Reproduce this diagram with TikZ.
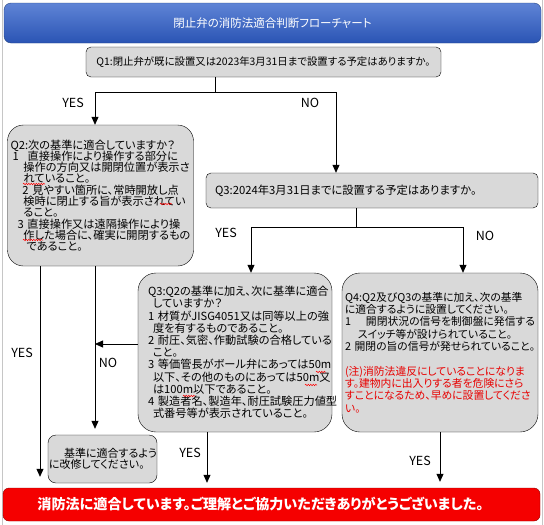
\documentclass[tikz,border=0pt]{standalone}
\usepackage{fontspec}
\setmainfont{Noto Sans CJK JP}[RawFeature={+palt}]
\usetikzlibrary{arrows.meta,decorations.pathmorphing}
\definecolor{boxgray}{HTML}{D9D9D9}
\definecolor{titletop}{HTML}{5F84D6}
\definecolor{titlebot}{HTML}{2A54B4}
\definecolor{titleedge}{HTML}{27457F}
\definecolor{okred}{HTML}{F50000}
\definecolor{okedge}{HTML}{8E0000}
\definecolor{notered}{HTML}{E80000}
\DeclareRobustCommand\tightlines{\lineskiplimit=-100pt\lineskip=0pt\relax}
\begin{document}
\begin{tikzpicture}[x=1pt, y=-1pt,
  qbox/.style = {draw, fill=boxgray, rounded corners=5pt, inner xsep=3pt, inner ysep=0pt},
  bigq/.style = {qbox, rounded corners=16pt, align=left, execute at begin node=\tightlines},
  lbl/.style = {font=\fontsize{12.5}{12.5}\selectfont, inner sep=0pt},
  arr/.style = {-{Triangle[width=7pt,length=8pt]}, line width=0.8pt},
  conn/.style = {line width=0.8pt},
  squiggle/.style = {draw=red, line width=0.5pt, decorate, decoration={snake, amplitude=0.7pt, segment length=2.5pt}}]
	\useasboundingbox (0,0) rectangle (544,525);
	\draw[gray!45] (2,0) -- (2,525) (542,0) -- (542,525);

	\node[draw=titleedge, top color=titletop, bottom color=titlebot, rounded corners=7pt, minimum width=537, minimum height=40, text=white, font=\fontsize{11.5}{11.5}\selectfont] (title) at (272.5,23) {閉止弁の消防法適合判断フローチャート};
	\node[qbox, minimum width=355, minimum height=30, font=\fontsize{10.4}{11}\selectfont] (q1) at (263.5,62) {Q1:閉止弁が既に設置又は2023年3月31日まで設置する予定はありますか。};
	\node[bigq, minimum width=186, minimum height=141, text width=180, font=\fontsize{11.2}{11.3}\selectfont] (q2) at (100.5,195.5) {Q2:次の基準に適合していますか？\\
		\hspace*{2pt}1\hspace*{9pt}直接操作により操作する部分に\\
		\hspace*{13pt}操作の方向又は開閉位置が表示さ\\
		\hspace*{13pt}れていること。\\
		\hspace*{12pt}2~見やすい箇所に、常時開放し点\\
		\hspace*{13pt}検時に閉止する旨が表示されてい\\
		\hspace*{13pt}ること。\\
		\hspace*{7pt}3~直接操作又は遠隔操作により操\\
		\hspace*{13pt}作した場合に、確実に開閉するもの\\
		\hspace*{16pt}であること。};
	\node[qbox, minimum width=332, minimum height=35, text width=314, inner xsep=9pt, align=left, font=\fontsize{11.3}{11.3}\selectfont] (q3) at (372,190.5) {Q3:2024年3月31日までに設置する予定はありますか。};
	\node[bigq, rounded corners=18pt, minimum width=194, minimum height=159, text width=174, inner xsep=10pt, font=\fontsize{11.2}{12.2}\selectfont] (q3b) at (235,352.5) {Q3:Q2の基準に加え、次に基準に適合\\
		\hspace*{5pt}していますか？\\
		1~材質がJISG4051又は同等以上の強\\
		\hspace*{5pt}度を有するものであること。\\
		2~耐圧、気密、作動試験の合格している\\
		\hspace*{5pt}こと。\\
		3~等価管長がボール弁にあっては50m\\
		\hspace*{5pt}以下、その他のものにあっては50m又\\
		\hspace*{5pt}は100m以下であること。\\
		4~製造者名、製造年、耐圧試験圧力値型\\
		\hspace*{5pt}式番号等が表示されていること。};
	\node[bigq, rounded corners=18pt, minimum width=196, minimum height=159, text width=190, inner xsep=3pt, font=\fontsize{10.8}{12.4}\selectfont] (q4) at (440,352.5) {Q4:Q2及びQ3の基準に加え、次の基準\\
		に適合するように設置してください。\\
		1\hspace*{15pt}開閉状況の信号を制御盤に発信する\\
		\hspace*{13pt}スイッチ等が設けられていること。\\
		2~開閉の旨の信号が発せられていること。\\[12pt]
		\textcolor{notered}{(注)消防法違反にしていることになりま}\\
		\textcolor{notered}{す。建物内に出入りする者を危険にさら}\\
		\textcolor{notered}{すことになるため、早めに設置してくださ}\\
		\textcolor{notered}{い。}\\[4pt]};
	\node[qbox, rounded corners=8pt, minimum width=109, minimum height=48, text width=107, inner xsep=1pt, align=left, execute at begin node=\tightlines, font=\fontsize{11}{10.5}\selectfont] (fix) at (102.5,459) {\hspace*{15pt}基準に適合するよう\\に改修してください。};
	\node[draw=okedge, fill=okred, rounded corners=6pt, minimum width=537, minimum height=33, text=white, font=\fontsize{14.1}{15}\bfseries\selectfont] (ok) at (271.5,504.5) {消防法に適合しています。ご理解とご協力いただきありがとうございました。\hspace*{22pt}};

	\coordinate (j1) at (215,92);
	\coordinate (j3) at (356,227);
	\coordinate (noq3) at (95,344);
	\draw[conn] (q1.south -| j1) -- (j1);
	\draw[arr] (j1) -| ([xshift=-5.5pt]q2.north);
	\draw[arr] (j1) -| ([xshift=-36pt]q3.north);
	\draw[conn] (q3.south -| j3) -- (j3);
	\draw[arr] (j3) -| ([xshift=16pt]q3b.north);
	\draw[arr] (j3) -| ([xshift=23pt]q4.north);
	\draw[arr, shorten >=11pt] ([xshift=-60.5pt]q2.south) -- ([xshift=-60.5pt]q2.south |- ok.north);
	\draw[arr, shorten >=6pt] ([xshift=-5.5pt]q2.south) -- ([xshift=-5.5pt]q2.south |- fix.north);
	\draw[arr] (q3b.west |- noq3) -- (noq3);
	\draw[arr, shorten >=5pt] ([xshift=-28pt]q3b.south) -- ([xshift=-28pt]q3b.south |- ok.north);
	\draw[arr, shorten >=6pt] (q4.south) -- (q4.south |- ok.north);

	\node[lbl] (yes1) at (73,103) {YES};
	\node[lbl] (no1) at (310,103) {NO};
	\node[lbl] (yes3) at (226,233) {YES};
	\node[lbl] (no3) at (485,236) {NO};
	\node[lbl] (yes2) at (22,353) {YES};
	\node[lbl] (no2) at (108,363) {NO};
	\node[lbl] (yes3b) at (190,453) {YES};
	\node[lbl] (yes4) at (420,461) {YES};

	\draw[squiggle] (23,184) -- (45,184);
	\draw[squiggle] (160,204) -- (172,204);
	\draw[squiggle] (23,240) -- (43,240);
	\draw[squiggle] (316,372) -- (326,372);
	\draw[squiggle] (305,385) -- (317,385);
	\draw[squiggle] (183,396) -- (195,396);
\end{tikzpicture}
\end{document}
